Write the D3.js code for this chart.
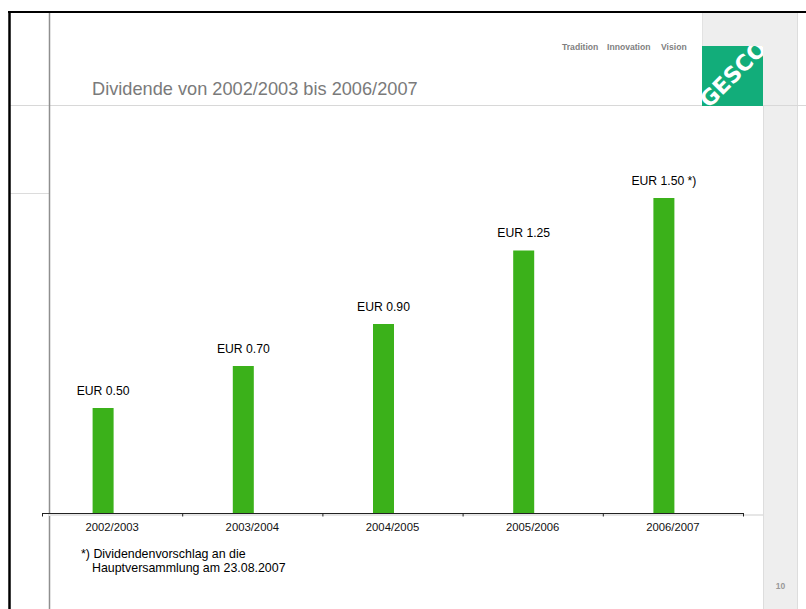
<!DOCTYPE html>
<html>
<head>
<meta charset="utf-8">
<script src="https://cdn.jsdelivr.net/npm/d3@7"></script>
<style>
  html, body { margin: 0; padding: 0; background: #fff; }
  svg { display: block; font-family: "Liberation Sans", Arial, sans-serif; }
</style>
</head>
<body>
<svg width="806" height="609"></svg>
<script>
// Daten
const jahre = ["2002/2003", "2003/2004", "2004/2005", "2005/2006", "2006/2007"];
const dividende = [0.50, 0.70, 0.90, 1.25, 1.50];
const beschriftung = ["EUR 0.50", "EUR 0.70", "EUR 0.90", "EUR 1.25", "EUR 1.50 *)"];
const serien = ["Dividende", "leer"];

const svg = d3.select("svg");

// Folienrahmen
svg.append("rect").attr("x", 702).attr("y", 13).attr("width", 95).attr("height", 93).attr("fill", "#eeeeee");
svg.append("rect").attr("x", 763).attr("y", 106).attr("width", 34).attr("height", 503).attr("fill", "#eeeeee");
svg.append("line").attr("x1", 797.5).attr("x2", 797.5).attr("y1", 13).attr("y2", 609).attr("stroke", "#dddddd");
svg.append("line").attr("x1", 763.5).attr("x2", 763.5).attr("y1", 106).attr("y2", 609).attr("stroke", "#dddddd");
svg.append("line").attr("x1", 702.5).attr("x2", 702.5).attr("y1", 13).attr("y2", 46).attr("stroke", "#e2e2e2");
svg.append("line").attr("x1", 9).attr("x2", 806).attr("y1", 105.5).attr("y2", 105.5).attr("stroke", "#d8d8d8");
svg.append("line").attr("x1", 9).attr("x2", 49).attr("y1", 193.5).attr("y2", 193.5).attr("stroke", "#dcdcdc");
svg.append("line").attr("x1", 49.5).attr("x2", 49.5).attr("y1", 12).attr("y2", 609).attr("stroke", "#8f8f8f").attr("stroke-width", 1.5);
svg.append("line").attr("x1", 8).attr("x2", 806).attr("y1", 12).attr("y2", 12).attr("stroke", "#000").attr("stroke-width", 2);
svg.append("line").attr("x1", 9.5).attr("x2", 9.5).attr("y1", 11).attr("y2", 609).attr("stroke", "#000").attr("stroke-width", 2.5);

// Logo
const clip = svg.append("defs").append("clipPath").attr("id", "logoclip");
clip.append("rect").attr("x", 702).attr("y", 46).attr("width", 61).attr("height", 60);
svg.append("rect").attr("x", 702).attr("y", 46).attr("width", 61).attr("height", 60).attr("fill", "#12ad7a");
svg.append("g").attr("clip-path", "url(#logoclip)")
  .append("text")
  .attr("transform", "translate(709,109) rotate(-45)")
  .attr("fill", "#fff").attr("font-weight", "bold").attr("font-size", 22)
  .attr("font-family", "'DejaVu Sans', sans-serif")
  .text("GESCO");

const slogan = [["Tradition", 562], ["Innovation", 607], ["Vision", 661]];
svg.selectAll(".slogan").data(slogan).enter().append("text")
  .attr("class", "slogan")
  .attr("x", d => d[1]).attr("y", 50)
  .attr("font-size", 8.6).attr("font-weight", "bold").attr("fill", "#7f7f7f")
  .text(d => d[0]);

// Titel
svg.append("text").attr("x", 92).attr("y", 95)
  .attr("font-size", 18.2).attr("fill", "#7a7a7a")
  .text("Dividende von 2002/2003 bis 2006/2007");

// Diagramm
const axisY = 513;
const x = d3.scaleBand().domain(jahre).range([42, 743]).padding(0);
// zweite (leere) Serie, Balken sitzt links der Kategoriemitte
const x1 = d3.scaleBand().domain(serien).range([-19.5, 22.5]).padding(0);
const y = d3.scaleLinear().domain([0, 1.5]).range([axisY, axisY - 315]);

const g = svg.append("g");

// hellgraue Linie unter der Achse
g.append("line").attr("x1", 49).attr("x2", 763).attr("y1", 515).attr("y2", 515)
  .attr("stroke", "#e6e6e6").attr("stroke-width", 2);

const daten = jahre.map((j, i) => ({ jahr: j, wert: dividende[i], label: beschriftung[i] }));
const mitte = d => x(d.jahr) + x.bandwidth() / 2;

g.selectAll(".bar").data(daten).enter().append("rect")
  .attr("class", "bar")
  .attr("x", d => mitte(d) + x1("Dividende"))
  .attr("y", d => y(d.wert))
  .attr("width", x1.bandwidth())
  .attr("height", d => y(0) - y(d.wert))
  .attr("fill", "#3bb11a");

g.selectAll(".wert").data(daten).enter().append("text")
  .attr("class", "wert")
  .attr("x", d => mitte(d) + x1("Dividende") + x1.bandwidth() / 2)
  .attr("y", d => y(d.wert) - 13.5)
  .attr("text-anchor", "middle")
  .attr("font-size", 12.2).attr("fill", "#000")
  .text(d => d.label);

// x-Achse
const axis = g.append("g")
  .attr("transform", `translate(0,${axisY})`)
  .call(d3.axisBottom(x).tickSizeInner(0).tickSizeOuter(0).tickPadding(10));
axis.select(".domain").attr("stroke", "#222");
axis.selectAll("text").attr("font-size", 11.3).attr("fill", "#111")
  .attr("font-family", "'Liberation Sans', Arial, sans-serif");

const grenzen = jahre.map(j => x(j)).concat([x.range()[1]]);
axis.selectAll(".grenze").data(grenzen).enter().append("line")
  .attr("class", "grenze")
  .attr("x1", d => d + 0.5).attr("x2", d => d + 0.5)
  .attr("y1", 0).attr("y2", 3.5)
  .attr("stroke", "#222");

// Fußnote
const fuss = svg.append("text").attr("font-size", 12.4).attr("fill", "#000");
fuss.append("tspan").attr("x", 81).attr("y", 558).text("*) Dividendenvorschlag an die");
fuss.append("tspan").attr("x", 92).attr("y", 571.5).text("Hauptversammlung am 23.08.2007");

// Seitenzahl
svg.append("text").attr("x", 780.5).attr("y", 589).attr("text-anchor", "middle")
  .attr("font-size", 8.5).attr("font-weight", "bold").attr("fill", "#999")
  .text("10");
</script>
</body>
</html>
